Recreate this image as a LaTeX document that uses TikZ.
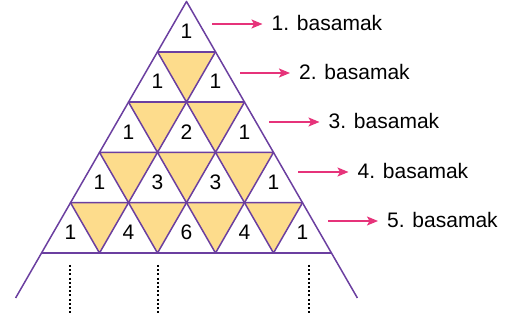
\documentclass[tikz,border=0pt]{standalone}
\usepackage{fontspec}
\setmainfont{Liberation Sans}
\usetikzlibrary{arrows.meta}
\definecolor{tri}{HTML}{6B3FA0}
\definecolor{fillY}{HTML}{FDDC8C}
\definecolor{pinkA}{HTML}{E6337A}
\tikzset{
  gridline/.style={draw=tri, line width=1.5pt, line join=round},
  yellowtri/.style={fill=fillY, draw=tri, line width=1.5pt, line join=round},
  num/.style={inner sep=0pt, font=\fontsize{21}{25}\selectfont},
  lab/.style={inner sep=0pt, anchor=west, font=\fontsize{21}{25}\selectfont},
  arr/.style={draw=pinkA, line width=1.5pt, -{Stealth[length=11pt,width=9pt,inset=2.5pt]}},
  dots/.style={draw=black, line width=1.6pt, dash pattern=on 2pt off 2.2pt},
}
\begin{document}
\begin{tikzpicture}[x=1pt,y=-1pt]
\useasboundingbox (0,0) rectangle (507,320);
\def\ax{186.5}\def\ay{1.5}\def\hh{50.3}\def\ss{29}
% downward (yellow) triangles
\foreach \k in {2,...,5}{
  \pgfmathtruncatemacro{\km}{\k-2}
  \foreach \i in {0,...,\km}{
    \pgfmathsetmacro{\xa}{\ax+(2*\i-(\k-1))*\ss}
    \pgfmathsetmacro{\xb}{\ax+(2*(\i+1)-(\k-1))*\ss}
    \pgfmathsetmacro{\xc}{\ax+(2*(\i+1)-\k)*\ss}
    \pgfmathsetmacro{\yt}{\ay+(\k-1)*\hh}
    \pgfmathsetmacro{\yb}{\ay+\k*\hh}
    \filldraw[yellowtri] (\xa,\yt) -- (\xb,\yt) -- (\xc,\yb) -- cycle;
  }
}
% horizontal lines
\foreach \j in {1,...,5}{
  \pgfmathsetmacro{\xl}{\ax-\j*\ss}
  \pgfmathsetmacro{\xr}{\ax+\j*\ss}
  \pgfmathsetmacro{\yy}{\ay+\j*\hh}
  \draw[gridline] (\xl,\yy) -- (\xr,\yy);
}
% outer sides
\coordinate (apex) at (\ax,\ay);
\coordinate (leftend) at (15.6,298);
\coordinate (rightend) at (357.4,298);
\draw[gridline] (leftend) -- (apex) -- (rightend);
% numbers
\node[num] (n11) at (186.5,30.8) {1};
\node[num] (n21) at (157.5,81.5) {1};
\node[num] (n22) at (215.5,81.5) {1};
\node[num] (n31) at (128.5,131.8) {1};
\node[num] (n32) at (186.5,131.8) {2};
\node[num] (n33) at (244.5,131.8) {1};
\node[num] (n41) at (99.5,182.1) {1};
\node[num] (n42) at (157.5,182.1) {3};
\node[num] (n43) at (215.5,182.1) {3};
\node[num] (n44) at (273.5,182.1) {1};
\node[num] (n51) at (70.5,232.4) {1};
\node[num] (n52) at (128.5,232.4) {4};
\node[num] (n53) at (186.5,232.4) {6};
\node[num] (n54) at (244.5,232.4) {4};
\node[num] (n55) at (302.5,232.4) {1};
% labels and arrows
\node[lab] (l1) at (271.5,23) {1. basamak};
\node[lab] (l2) at (299,72) {2. basamak};
\node[lab] (l3) at (328.5,121) {3. basamak};
\node[lab] (l4) at (357.5,171) {4. basamak};
\node[lab] (l5) at (387,220) {5. basamak};
\coordinate (a1) at (212,24);
\coordinate (a2) at (240,73);
\coordinate (a3) at (269,122);
\coordinate (a4) at (298,172);
\coordinate (a5) at (328,221);
\foreach \i in {1,...,5}{
  \draw[arr, shorten >=9pt] (a\i) -- (a\i -| l\i.west);
}
% dotted lines
\coordinate (d1t) at (70,265); \coordinate (d1b) at (70,315);
\coordinate (d2t) at (157.7,265); \coordinate (d2b) at (157.7,315);
\coordinate (d3t) at (309,265); \coordinate (d3b) at (309,315);
\draw[dots] (d1t) -- (d1b);
\draw[dots] (d2t) -- (d2b);
\draw[dots] (d3t) -- (d3b);
\end{tikzpicture}
\end{document}
